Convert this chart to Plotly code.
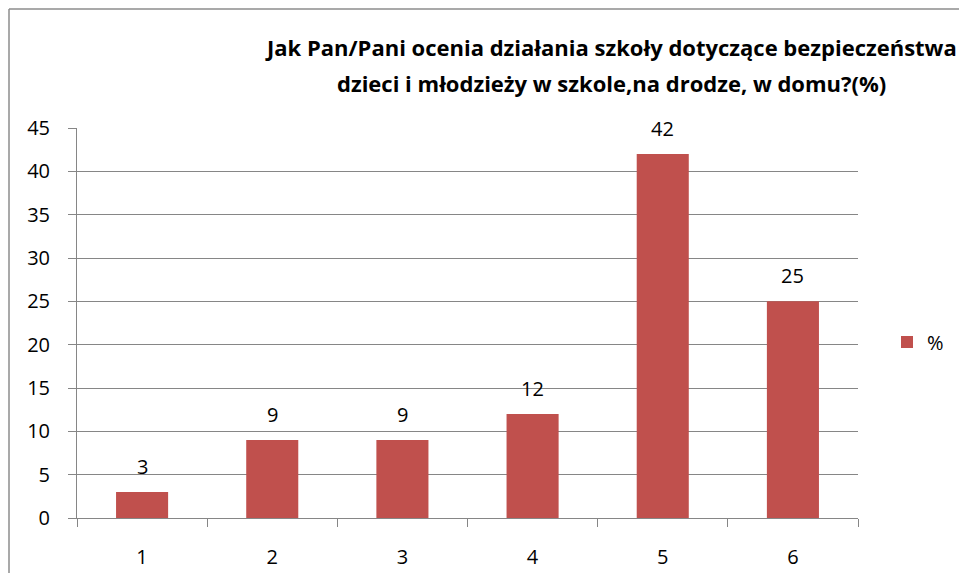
import plotly.graph_objects as go

categories = ["1", "2", "3", "4", "5", "6"]
values = [3, 9, 9, 12, 42, 25]
series_name = "%"
y_ticks = [0, 5, 10, 15, 20, 25, 30, 35, 40, 45]
title_lines = ["Jak Pan/Pani ocenia działania szkoły dotyczące bezpieczeństwa",
               "dzieci i młodzieży w szkole,na drodze, w domu?(%)"]

# figure is offset 8px by the page body margin
W, H = 951, 565
L, T = 69, 120
PW, PH = 781, 390
R, B = W - L - PW, H - T - PH
FONT = "Open Sans"


def px(xf):
    return (xf - L) / PW


def py(yf):
    return (T + PH - yf) / PH


fig = go.Figure()
fig.add_trace(go.Bar(
    x=categories, y=values, name=series_name,
    marker=dict(color="#C0504D", line=dict(width=0)),
))

annotations = []
for i, v in enumerate(values):
    annotations.append(dict(x=i, y=v, xref="x", yref="y", text=str(v), showarrow=False,
                            yanchor="middle", yshift=26,
                            font=dict(size=20, family=FONT, color="#000000")))
for line, yc in zip(title_lines, [39, 75]):
    annotations.append(dict(text="<b>" + line + "</b>", xref="paper", yref="paper",
                            x=px(603), y=py(yc), xanchor="center", yanchor="middle",
                            showarrow=False, font=dict(size=22, family=FONT, color="#000000")))

fig.update_layout(
    width=W, height=H,
    margin=dict(l=L, r=R, t=T, b=B, autoexpand=False),
    paper_bgcolor="white", plot_bgcolor="white",
    bargap=0.6,
    font=dict(family=FONT, size=20, color="#000000"),
    showlegend=True,
    legend=dict(x=px(879), y=py(334), xanchor="left", yanchor="middle",
                font=dict(size=20), itemwidth=30, bgcolor="rgba(0,0,0,0)"),
    xaxis=dict(type="category", range=[-0.5, len(categories) - 0.5],
               showgrid=False, showline=True, linecolor="#868686", linewidth=1,
               ticks="outside", tickson="boundaries", ticklen=8, tickcolor="#868686",
               tickfont=dict(size=20), ticklabelstandoff=21, fixedrange=True),
    yaxis=dict(range=[0, 45], tickvals=y_ticks, showgrid=True, gridcolor="#868686", gridwidth=1,
               showline=True, linecolor="#868686", linewidth=1, ticks="outside", ticklen=8,
               tickcolor="#868686", tickfont=dict(size=20), ticklabelstandoff=14,
               zeroline=False, fixedrange=True),
    annotations=annotations,
    shapes=[
        dict(type="line", xref="paper", yref="paper", x0=px(1), x1=px(W + 5), y0=py(1), y1=py(1),
             line=dict(color="#8c8c8c", width=1.5)),
        dict(type="line", xref="paper", yref="paper", x0=px(1), x1=px(1), y0=py(1), y1=py(H + 5),
             line=dict(color="#8c8c8c", width=1.5)),
    ],
)

fig.write_html("out.html")
